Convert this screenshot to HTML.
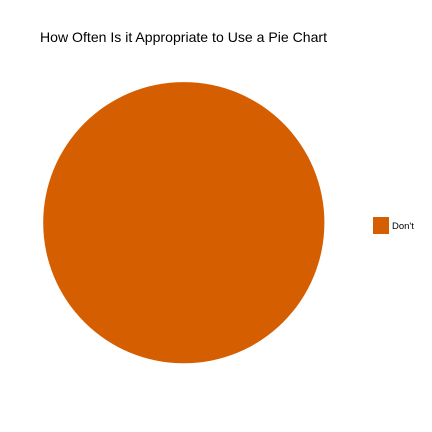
<!DOCTYPE html>
<html><head><meta charset="utf-8"><style>
html,body{margin:0;padding:0;background:#fff;}
svg{display:block;font-family:"Liberation Sans",Arial,sans-serif;}
</style></head><body>
<svg id="chart" width="432" height="432" viewBox="0 0 432 432">
<rect width="432" height="432" fill="#fff"/>
<text x="40" y="42" font-size="14" textLength="287" lengthAdjust="spacingAndGlyphs" fill="#000">How Often Is it Appropriate to Use a Pie Chart</text>
<g id="slices"></g>
<g id="legend"></g>
</svg>
<script>
const categories = ["Don't"];
const values = [1];
const colors = ["#D55E00"];
const ns = "http://www.w3.org/2000/svg";
const cx = 183.8, cy = 222.7, r = 140.6;
const total = values.reduce((a,b)=>a+b,0);
const g = document.getElementById('slices');
let a0 = 0;
values.forEach((v,i)=>{
  const frac = v/total;
  let el;
  if (frac >= 0.9999) {
    el = document.createElementNS(ns,'circle');
    el.setAttribute('cx',cx); el.setAttribute('cy',cy); el.setAttribute('r',r);
  } else {
    const a1 = a0 + frac*2*Math.PI;
    const x0 = cx + r*Math.sin(a0), y0 = cy - r*Math.cos(a0);
    const x1 = cx + r*Math.sin(a1), y1 = cy - r*Math.cos(a1);
    el = document.createElementNS(ns,'path');
    el.setAttribute('d',`M${cx},${cy}L${x0},${y0}A${r},${r} 0 ${frac>0.5?1:0} 1 ${x1},${y1}Z`);
    a0 = a1;
  }
  el.setAttribute('fill',colors[i]);
  
  
  g.appendChild(el);
});
const lg = document.getElementById('legend');
categories.forEach((c,i)=>{
  const y = 217 + i*18;
  const k = document.createElementNS(ns,'rect');
  k.setAttribute('x',373); k.setAttribute('y',y); k.setAttribute('width',16); k.setAttribute('height',17);
  k.setAttribute('fill',colors[i]);
  
  
  lg.appendChild(k);
  const t = document.createElementNS(ns,'text');
  t.setAttribute('x',392); t.setAttribute('y',y+12);
  t.setAttribute('font-size','9.5'); t.setAttribute('fill','#000');
  t.textContent = c;
  
  
  lg.appendChild(t);
});
</script>
</body></html>
